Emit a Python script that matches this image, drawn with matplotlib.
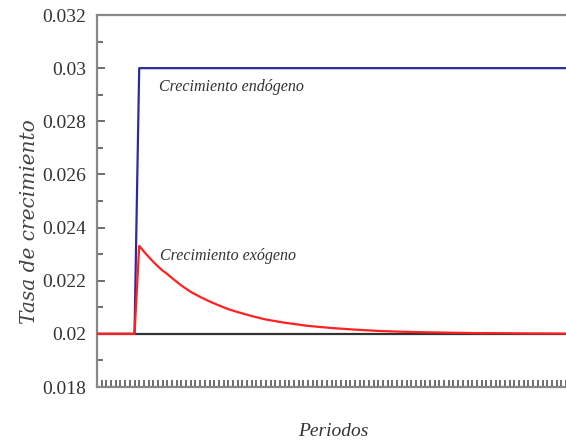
import matplotlib
matplotlib.use("Agg")
import matplotlib.pyplot as plt
from matplotlib.ticker import MultipleLocator

# Data
periods_base = [0, 100]
base_values = [0.02, 0.02]

endo_periods = [0, 8, 9, 100]
endo_values = [0.02, 0.02, 0.03, 0.03]

exo_periods = [0, 8, 9, 10, 11, 12, 13, 14, 15, 16, 18, 20, 22, 24, 26, 28, 30, 33, 36,
               40, 45, 50, 55, 60, 65, 70, 80, 90, 100]
exo_values = [0.02, 0.02, 0.02331, 0.02310, 0.02290, 0.02271, 0.02254, 0.02238,
              0.02225, 0.02210, 0.02182, 0.02158, 0.02139, 0.02122, 0.02107,
              0.02093, 0.02082, 0.02067, 0.02054, 0.02042, 0.02030, 0.02022,
              0.02016, 0.02011, 0.02008, 0.02006, 0.02003, 0.02002, 0.02001]

y_ticks = [0.018, 0.02, 0.022, 0.024, 0.026, 0.028, 0.03, 0.032]
y_tick_labels = ["0.018", "0.02", "0.022", "0.024", "0.026", "0.028", "0.03", "0.032"]

label_endo = "Crecimiento endógeno"
label_exo = "Crecimiento exógeno"
xlabel = "Periodos"
ylabel = "Tasa de crecimiento"

serif = ["Liberation Serif", "DejaVu Serif"]

fig = plt.figure(figsize=(5.66, 4.47), dpi=100)
ax = fig.add_axes([97/566, 1 - 387/447, 1 - 97/566, (387 - 15)/447])

ax.plot(periods_base, base_values, color="#333333", lw=1.6, zorder=2)
ax.plot(endo_periods, endo_values, color="#2b2b9e", lw=1.6, zorder=3)
ax.plot(exo_periods, exo_values, color="#ff2020", lw=1.6, zorder=4)

ax.set_xlim(0, 100)
ax.set_ylim(0.018, 0.032)
ax.set_yticks(y_ticks)
ax.set_yticklabels(y_tick_labels, fontfamily=serif, fontsize=14, color="#333333")
ax.yaxis.set_minor_locator(MultipleLocator(0.001))
ax.xaxis.set_major_locator(MultipleLocator(1))
ax.set_xticklabels([])
ax.tick_params(axis="y", which="major", direction="in", length=6, width=1.2, color="#555555", pad=8)
ax.tick_params(axis="y", which="minor", direction="in", length=4, width=1.2, color="#555555")
ax.tick_params(axis="x", which="major", direction="in", length=5, width=1.2, color="#555555")

for side in ["left", "bottom", "top"]:
    ax.spines[side].set_color("#888888")
    ax.spines[side].set_linewidth(1.6)
ax.spines["right"].set_visible(False)

ax.text(13.2, 0.02929, label_endo, fontfamily=serif, fontstyle="italic", fontsize=11.5,
        color="#333333", va="center", ha="left")
ax.text(13.5, 0.02293, label_exo, fontfamily=serif, fontstyle="italic", fontsize=11.5,
        color="#333333", va="center", ha="left")

fig.text(333/566, 1 - 432/447, xlabel, fontfamily=serif, fontstyle="italic", fontsize=14,
         color="#333333", ha="center", va="center")
fig.text(30/566, 1 - 222/447, ylabel, fontfamily=["DejaVu Serif"], fontstyle="italic",
         fontsize=14.5, color="#444444", ha="center", va="center", rotation=90)

fig.savefig("out.png", dpi=100)
